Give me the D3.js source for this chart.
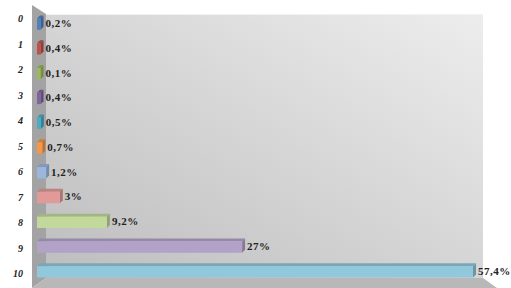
<!DOCTYPE html>
<html><head><meta charset="utf-8">
<script src="https://cdn.jsdelivr.net/npm/d3@7"></script>
<style>html,body{margin:0;padding:0;background:#fff;}svg{display:block;}</style>
</head><body>
<svg id="chart" width="511" height="288"></svg>
<script>
const categories = ["0","1","2","3","4","5","6","7","8","9","10"];
const values = [0.2,0.4,0.1,0.4,0.5,0.7,1.2,3,9.2,27,57.4];
const valueLabels = ["0,2%","0,4%","0,1%","0,4%","0,5%","0,7%","1,2%","3%","9,2%","27%","57,4%"];
const colors = ["#4f81bd","#c0504d","#9bbb59","#8064a2","#4bacc6","#f79646","#9bb7dd","#e29a98","#c3d89b","#b3a2c8","#92c8dc"];

const svg = d3.select("#chart");
const defs = svg.append("defs");
const g = defs.append("linearGradient").attr("id","wall").attr("x1","0").attr("y1","1").attr("x2","1").attr("y2","0");
g.append("stop").attr("offset","0").attr("stop-color","#bdbdbd");
g.append("stop").attr("offset","1").attr("stop-color","#ededed");

// walls
svg.append("polygon").attr("points","32,5 46,14 46,278 32,288").attr("fill","#a3a3a3");
svg.append("rect").attr("x",46).attr("y",14).attr("width",437).attr("height",264).attr("fill","url(#wall)");
svg.append("line").attr("x1",46).attr("x2",483).attr("y1",14.5).attr("y2",14.5).attr("stroke","#f2f2f2");
svg.append("polygon").attr("points","46,278 483,278 497,288 32,288").attr("fill","#b8b8b8");

const x = d3.scaleLinear().domain([0,57.4]).range([37,473]);
const y = d3.scaleBand().domain(categories).range([10,283]).paddingInner(0.42).paddingOuter(0.22);
const yAxisScale = d3.scaleBand().domain(categories).range([6,287]);

const depthX = 3, depthY = 3;
const bars = svg.append("g").selectAll("g").data(categories).join("g");
bars.each(function(c,i){
  const sel = d3.select(this);
  const y0 = y(c) + depthY, h = y.bandwidth() - depthY;
  const x0 = x(0), x1 = Math.max(x(values[i]), x0 + 3.5);
  const col = d3.color(colors[i]);
  // top face
  sel.append("polygon")
    .attr("points",`${x0},${y0} ${x1},${y0} ${x1+depthX},${y0-depthY} ${x0+depthX},${y0-depthY}`)
    .attr("fill",col.darker(0.5));
  // side face
  sel.append("polygon")
    .attr("points",`${x1},${y0} ${x1+depthX},${y0-depthY} ${x1+depthX},${y0+h-depthY} ${x1},${y0+h}`)
    .attr("fill",col.darker(0.8));
  // front
  sel.append("rect").attr("x",x0).attr("y",y0).attr("width",x1-x0).attr("height",h).attr("fill",col);
  sel.append("text")
    .attr("x",x1+depthX+2).attr("y",y0+h/2-1).attr("dy","0.35em")
    .attr("font-family","Liberation Serif, Times New Roman, serif")
    .attr("font-weight","bold").attr("font-size",11).attr("letter-spacing",0.5)
    .attr("fill","#222").text(valueLabels[i]);
});

const axis = svg.append("g").attr("transform","translate(23,0)")
  .call(d3.axisLeft(yAxisScale).tickSize(0).tickPadding(0));
axis.select(".domain").remove();
axis.selectAll("text")
  .attr("font-family","Liberation Serif, Times New Roman, serif")
  .attr("font-weight","bold").attr("font-style","italic").attr("font-size",10)
  .attr("fill","#222");
</script>
</body></html>
